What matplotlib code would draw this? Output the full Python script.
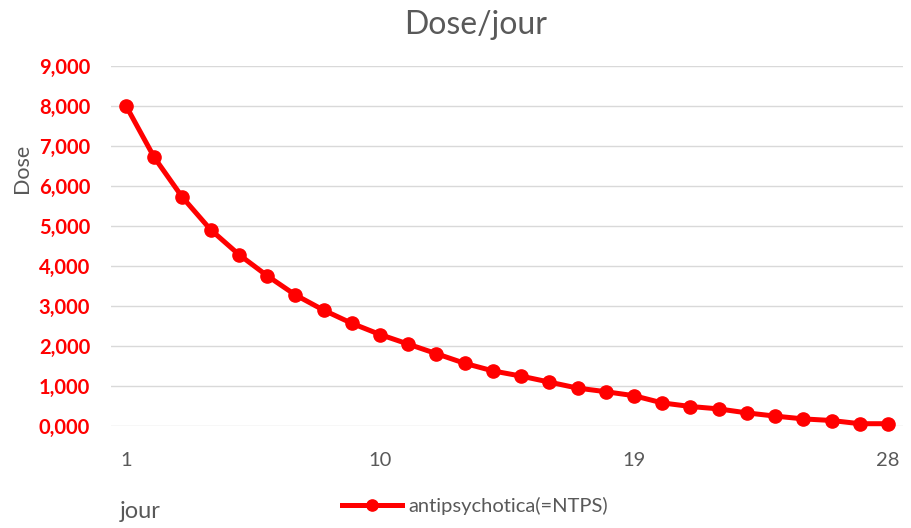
import matplotlib
matplotlib.use("Agg")
import matplotlib.pyplot as plt
from matplotlib.ticker import FuncFormatter, FixedLocator

days = list(range(1, 29))
dose = [8.00, 6.71, 5.71, 4.90, 4.28, 3.75, 3.27, 2.89, 2.56, 2.28, 2.04, 1.80,
        1.56, 1.37, 1.24, 1.09, 0.94, 0.85, 0.75, 0.57, 0.48, 0.42, 0.32, 0.24,
        0.17, 0.13, 0.05, 0.05]
xticks = [1, 10, 19, 28]
yticks = [0, 1, 2, 3, 4, 5, 6, 7, 8, 9]
series_label = "antipsychotica(=NTPS)"
title = "Dose/jour"
xlabel = "jour"
ylabel = "Dose"

plt.rcParams['font.family'] = ['Lato', 'DejaVu Sans']
gray = '#595959'
red = '#FF0000'

fig = plt.figure(figsize=(9.11, 5.28), dpi=100)
ax = fig.add_axes([111/911, 1-425.7/528, (903-111)/911, (425.7-65.7)/528])

ax.plot(days, dose, color=red, lw=3.6, marker='o', ms=9.5, label=series_label,
        solid_joinstyle='round', clip_on=False, zorder=3)

ax.set_xlim(0.47, 28.53)
ax.set_ylim(0, 9)
ax.xaxis.set_major_locator(FixedLocator(xticks))
ax.yaxis.set_major_locator(FixedLocator(yticks))
ax.yaxis.set_major_formatter(FuncFormatter(lambda v, p: f"{v:.3f}".replace('.', ',')))
ax.grid(axis='y', color='#d9d9d9', lw=1.0)
ax.set_axisbelow(True)
for s in ax.spines.values():
    s.set_visible(False)
ax.tick_params(axis='both', length=0)
ax.tick_params(axis='x', pad=19, labelsize=14.5, labelcolor=gray)
ax.tick_params(axis='y', pad=15, labelsize=14.5, labelcolor=red)
for t in ax.get_yticklabels():
    t.set_fontweight('bold')

fig.text(476/911, 1-25/528, title, ha='center', va='center', fontsize=23, color=gray)
fig.text(22/911, 1-168/528, ylabel, ha='center', va='center', rotation=90, fontsize=15.5, color=gray)
fig.text(120/911, 1-512/528, xlabel, ha='left', va='center', fontsize=17, color=gray)

leg = fig.legend(loc='center', bbox_to_anchor=(475/911, 1-506/528), frameon=False,
                 fontsize=14.5, handlelength=3.0, handletextpad=0.3, labelcolor=gray,
                 markerscale=0.85)

fig.savefig("out.png", dpi=100)
